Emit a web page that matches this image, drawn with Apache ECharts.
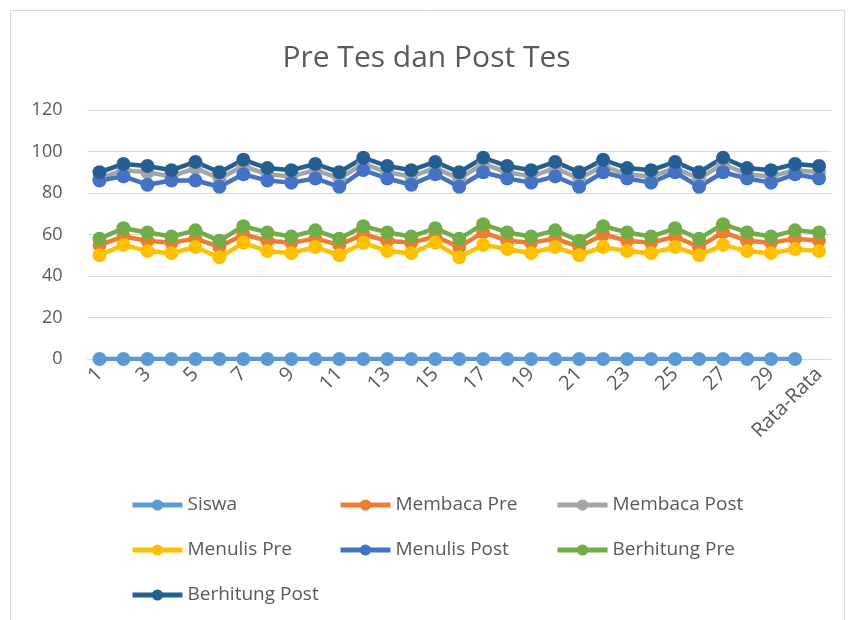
<!DOCTYPE html>
<html><head><meta charset="utf-8">
<script src="https://cdn.jsdelivr.net/npm/echarts@6/dist/echarts.min.js"></script>
<style>html,body{margin:0;padding:0;background:#fff}#c{width:853px;height:620px}</style>
</head><body><div id="c"></div>
<script>
const categories = ['1','2','3','4','5','6','7','8','9','10','11','12','13','14','15','16','17','18','19','20','21','22','23','24','25','26','27','28','29','30','Rata-Rata'];
const siswa = [0,0,0,0,0,0,0,0,0,0,0,0,0,0,0,0,0,0,0,0,0,0,0,0,0,0,0,0,0,0,null];
const membacaPre = [55,59,57,56,58,54,60,57,56,58,55,60,57,56,59,54,61,57,56,58,54,60,57,56,59,54,61,57,56,58,57];
const membacaPost = [87,91,90,88,92,87,93,89,88,91,87,94,90,88,92,87,94,90,88,92,87,93,89,88,92,87,94,89,88,91,90];
const menulisPre = [50,55,52,51,54,49,56,52,51,54,50,56,52,51,56,49,55,53,51,54,50,54,52,51,54,50,55,52,51,53,52];
const menulisPost = [86,88,84,86,86,83,89,86,85,87,83,91,87,84,89,83,90,87,85,88,83,90,87,85,90,83,90,87,85,89,87];
const berhitungPre = [58,63,61,59,62,57,64,61,59,62,58,64,61,59,63,58,65,61,59,62,57,64,61,59,63,58,65,61,59,62,61];
const berhitungPost = [90,94,93,91,95,90,96,92,91,94,90,97,93,91,95,90,97,93,91,95,90,96,92,91,95,90,97,92,91,94,93];
const yTicks = [0,20,40,60,80,100,120];

const names = ['Siswa','Membaca Pre','Membaca Post','Menulis Pre','Menulis Post','Berhitung Pre','Berhitung Post'];
const colors = ['#5B9BD5','#ED7D31','#A5A5A5','#FFC000','#4472C4','#70AD47','#255E91'];
const datas = [siswa,membacaPre,membacaPost,menulisPre,menulisPost,berhitungPre,berhitungPost];
const font = 'Open Sans';
const chart = echarts.init(document.getElementById('c'));
const legendBase = {orient:'vertical', itemGap:25, itemWidth:50, itemHeight:14, top:495, padding:0,
  lineStyle:{width:5}, itemStyle:{borderWidth:0},
  textStyle:{color:'#595959', fontSize:19, lineHeight:20, fontFamily:font, padding:[0,0,0,0]}};
chart.setOption({
  animation:false,
  title:{text:'Pre Tes dan Post Tes', left:'center', top:38,
    textStyle:{color:'#595959', fontSize:30, fontWeight:'normal', fontFamily:font}},
  graphic:[{type:'rect', shape:{x:10.5,y:10.5,width:834,height:620}, style:{fill:'none',stroke:'#d9d9d9',lineWidth:1}}],
  grid:{left:87.5, right:22, top:110, bottom:261},
  xAxis:{type:'category', data:categories, boundaryGap:true,
    axisLine:{lineStyle:{color:'#d9d9d9', width:1}}, axisTick:{show:false},
    axisLabel:{interval:1, rotate:45, color:'#595959', fontSize:20, fontFamily:font, margin:12}},
  yAxis:{type:'value', min:yTicks[0], max:yTicks[yTicks.length-1], interval:20,
    axisLine:{show:false}, axisTick:{show:false},
    splitLine:{lineStyle:{color:'#d9d9d9', width:1}},
    axisLabel:{color:'#595959', fontSize:18, fontFamily:font, margin:25}},
  legend:[
    Object.assign({}, legendBase, {left:130, data:['Siswa','Menulis Pre','Berhitung Post']}),
    Object.assign({}, legendBase, {left:338, data:['Membaca Pre','Menulis Post']}),
    Object.assign({}, legendBase, {left:555, data:['Membaca Post','Berhitung Pre']})
  ],
  series: names.map((n,i)=>({name:n, type:'line', data:datas[i], symbol:'circle', symbolSize:14,
    lineStyle:{width:4.5, color:colors[i]}, itemStyle:{color:colors[i]}}))
});
</script></body></html>
